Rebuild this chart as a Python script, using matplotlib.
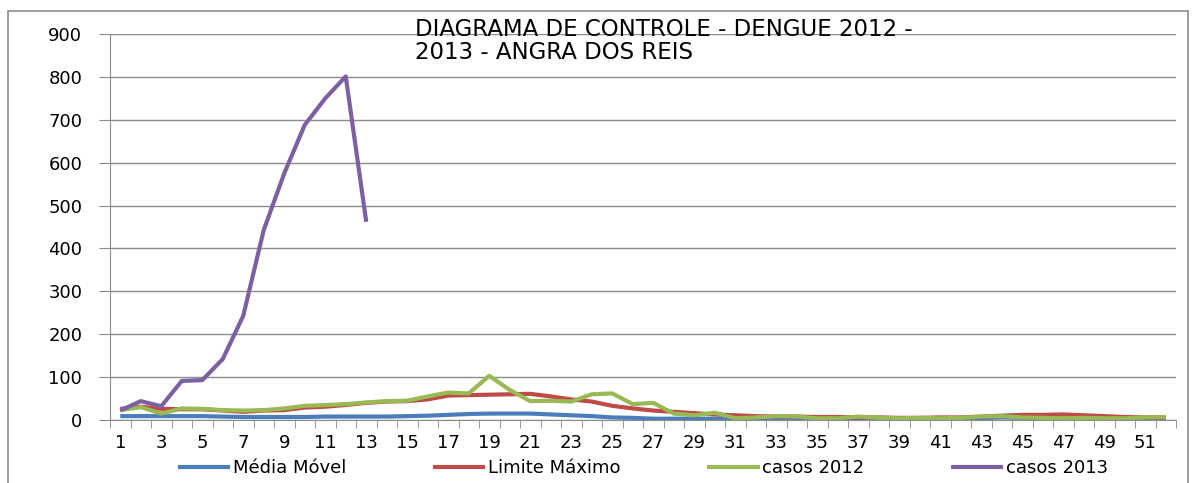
import matplotlib
matplotlib.use('Agg')
import matplotlib.pyplot as plt
import numpy as np
from matplotlib import rcParams
from matplotlib.patches import Rectangle

rcParams.update({'font.family': ['DejaVu Sans']})

# Data (weekly cases)
weeks = list(range(1, 53))
media_movel = [9, 9, 9, 9, 9, 8, 7, 7, 7, 7, 8, 8, 8, 8, 9, 10, 12, 14, 15, 15,
               15, 13, 11, 9, 6, 5, 3, 3, 3, 3, 3, 3, 3, 3, 3, 3, 3, 3, 3, 3,
               3, 3, 4, 6, 5, 5, 7, 5, 4, 4, 4, 5]
limite_maximo = [26, 31, 26, 25, 25, 22, 19, 22, 23, 29, 31, 35, 40, 43, 44, 48, 57, 58, 59, 60,
                 61, 55, 48, 43, 33, 27, 22, 19, 16, 13, 11, 9, 8, 8, 7, 7, 6, 6, 5, 5,
                 6, 6, 8, 10, 12, 12, 13, 11, 9, 7, 6, 6]
casos_2012 = [23, 30, 15, 27, 26, 23, 22, 23, 27, 33, 35, 37, 41, 44, 45, 55, 64, 62, 103, 70,
              44, 45, 43, 60, 62, 37, 40, 15, 11, 17, 4, 6, 9, 8, 4, 4, 8, 5, 4, 5,
              4, 5, 8, 9, 6, 5, 4, 5, 4, 4, 6, 7]
casos_2013 = [22, 44, 32, 91, 93, 142, 243, 443, 575, 688, 750, 801, 462]

series = [
    ('Média Móvel', media_movel, '#4A7EBB'),
    ('Limite Máximo', limite_maximo, '#BE4B48'),
    ('casos 2012', casos_2012, '#98B954'),
    ('casos 2013', casos_2013, '#7D60A0'),
]

fig = plt.figure(figsize=(11.92, 4.83), dpi=100)
ax = fig.add_axes([110 / 1192, 1 - 420 / 483, 1066 / 1192, 386 / 483])

for name, vals, color in series:
    ax.plot(weeks[:len(vals)], vals, color=color, lw=3, label=name,
            solid_joinstyle='round', solid_capstyle='butt')

ax.set_xlim(0.5, 52.5)
ax.set_ylim(0, 900)
ax.set_yticks(np.arange(0, 901, 100))
ax.yaxis.grid(True, color='#8c8c8c', lw=1)
ax.set_axisbelow(True)

# labels on odd weeks, tick marks between categories
ax.set_xticks(weeks)
ax.set_xticklabels([str(w) if w % 2 == 1 else '' for w in weeks])
ax.set_xticks(np.arange(0.5, 53, 1), minor=True)
ax.tick_params(axis='x', which='major', length=0, pad=10, labelsize=13)
ax.tick_params(axis='x', which='minor', length=6, color='#8c8c8c')
ax.tick_params(axis='y', length=8, color='#8c8c8c', labelsize=13, pad=12)

ax.spines['right'].set_visible(False)
ax.spines['top'].set_visible(False)
ax.spines['left'].set_color('#8c8c8c')
ax.spines['bottom'].set_color('#8c8c8c')

fig.text(415 / 1192, 1 - 41 / 483, 'DIAGRAMA DE CONTROLE - DENGUE 2012 -\n2013 - ANGRA DOS REIS',
         ha='left', va='center', fontsize=16.5, linespacing=1.0,
         family=['DejaVu Sans'])

ax.legend(loc='center', bbox_to_anchor=(0.5, -0.125), ncol=4, frameon=False,
          fontsize=13, handlelength=2.9, handletextpad=0.15, columnspacing=4.8)

# chart area border
fig.patches.append(Rectangle((8 / 1192, -0.05), 1180 / 1192, 1.05 - 11 / 483,
                             transform=fig.transFigure, fill=False,
                             edgecolor='#8c8c8c', lw=1.2))

plt.savefig('out.png', dpi=100)
